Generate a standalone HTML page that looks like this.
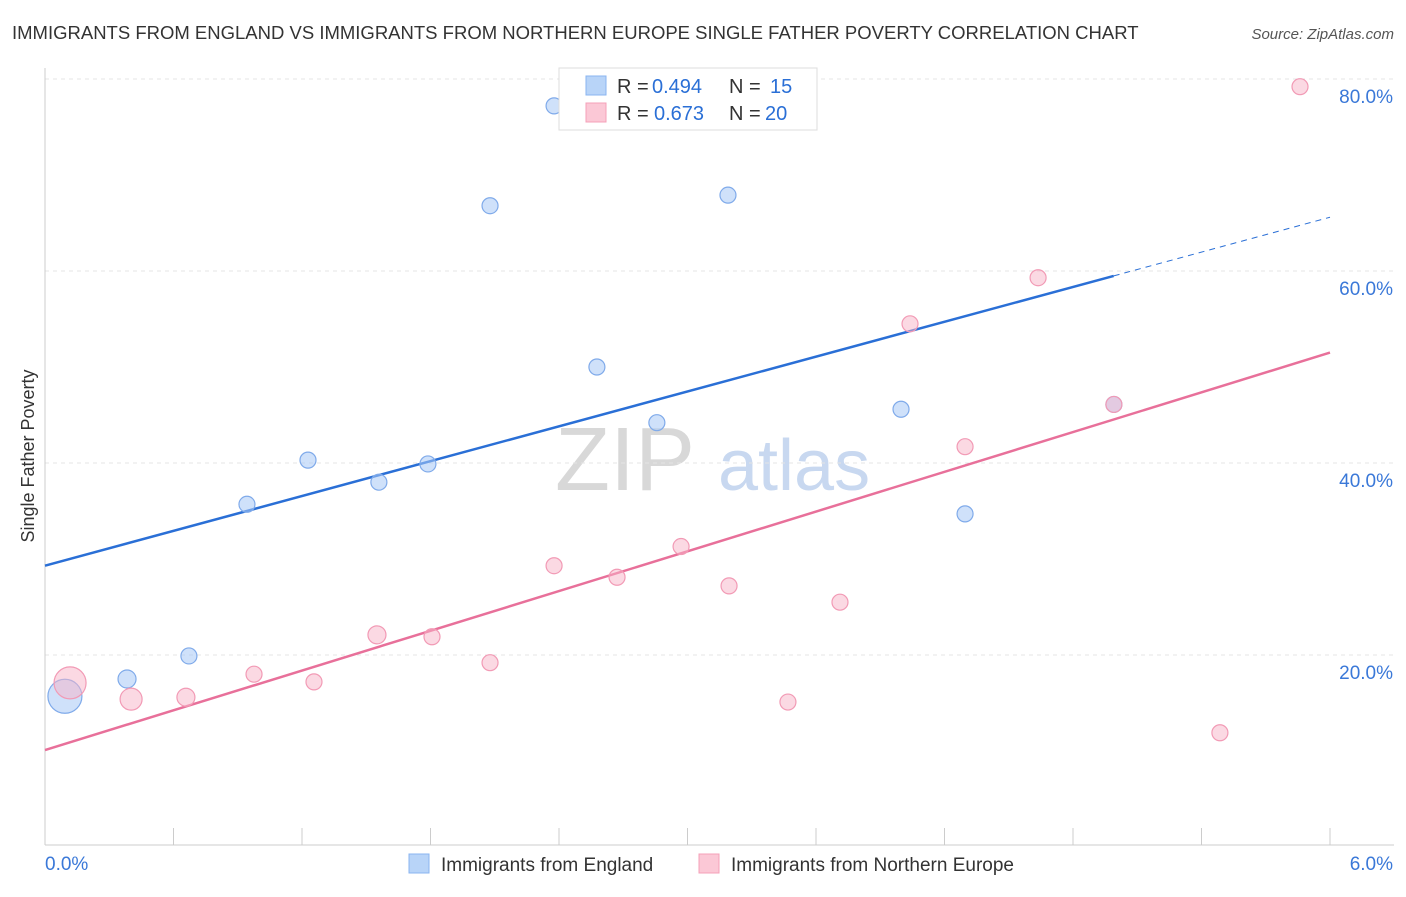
<!DOCTYPE html>
<html><head><meta charset="utf-8"><style>
body{margin:0;background:#fff;font-family:"Liberation Sans",sans-serif;}
svg text{font-family:"Liberation Sans",sans-serif;}
</style></head><body>
<svg id="c" width="1406" height="892">
<text x="12" y="39" font-size="18.5" fill="#333">IMMIGRANTS FROM ENGLAND VS IMMIGRANTS FROM NORTHERN EUROPE SINGLE FATHER POVERTY CORRELATION CHART</text>
<text x="1394" y="39" font-size="15" fill="#555" font-style="italic" text-anchor="end">Source: ZipAtlas.com</text>
<text transform="translate(34,456) rotate(-90)" font-size="18" fill="#333" text-anchor="middle">Single Father Poverty</text>
<text x="555" y="490" font-size="90" fill="#d8d8d8" font-family="Liberation Serif">ZIP</text>
<text x="718" y="490" font-size="72" fill="#c8d8f0">atlas</text>
<g id="grid"></g><g id="lines"></g><g id="pts"></g>
<g>
<rect x="559" y="68" width="258" height="62" fill="#fff" stroke="#ddd"/>
<rect x="586" y="76" width="20" height="19" fill="#b8d4f8" stroke="#8ab4f0"/>
<text x="617" y="93" font-size="20" fill="#333">R =</text>
<text x="652" y="93" font-size="20" fill="#2a6fd6">0.494</text>
<text x="729" y="93" font-size="20" fill="#333">N =</text>
<text x="770" y="93" font-size="20" fill="#2a6fd6">15</text>
<rect x="586" y="103" width="20" height="19" fill="#fbc8d6" stroke="#f4a0b8"/>
<text x="617" y="120" font-size="20" fill="#333">R =</text>
<text x="654" y="120" font-size="20" fill="#2a6fd6">0.673</text>
<text x="729" y="120" font-size="20" fill="#333">N =</text>
<text x="765" y="120" font-size="20" fill="#2a6fd6">20</text>
</g>
<g>
<rect x="409" y="854" width="20" height="19" fill="#b8d4f8" stroke="#8ab4f0"/>
<text x="441" y="871" font-size="19" fill="#333">Immigrants from England</text>
<rect x="699" y="854" width="20" height="19" fill="#fbc8d6" stroke="#f4a0b8"/>
<text x="731" y="871" font-size="19" fill="#333">Immigrants from Northern Europe</text>
</g>
</svg>
<script>
const blueX=[0.093,0.383,0.672,0.943,1.228,1.559,1.788,2.078,2.377,2.577,2.857,3.189,3.997,4.296,4.991];
const blueY=[15.7,17.5,19.9,35.7,40.3,38.0,39.9,66.8,77.2,50.0,44.2,67.9,45.6,34.7,46.1];
const blueR=[17,9,8,8,8,8,8,8,8,8,8,8,8,8,8];
const pinkX=[0.117,0.402,0.658,0.976,1.256,1.550,1.807,2.078,2.377,2.671,2.970,3.194,3.469,3.712,4.039,4.296,4.637,4.991,5.486,5.860];
const pinkY=[17.1,15.4,15.6,18.0,17.2,22.1,21.9,19.2,29.3,28.1,31.3,27.2,15.1,25.5,54.5,41.7,59.3,46.1,11.9,79.2];
const pinkR=[16,11,9,8,8,9,8,8,8,8,8,8,8,8,8,8,8,8,8,8];
const blueLine=[29.3,65.6], blueSolidEnd=4.99;
const pinkLine=[10.1,51.5];
const yTicks=[20,40,60,80];
const xTickLabels=["0.0%","6.0%"];
const X=v=>45+v/6*1285, Y=v=>847-v*9.6;
const NS="http://www.w3.org/2000/svg";
function mk(t,a,p){const e=document.createElementNS(NS,t);for(const k in a)e.setAttribute(k,a[k]);document.getElementById(p).appendChild(e);return e;}
yTicks.forEach(t=>{
 const l=mk('line',{x1:45,x2:1394,y1:Y(t),y2:Y(t),stroke:'#e4e4e4','stroke-dasharray':'4,4'},'grid');
 
 
 const tx=mk('text',{x:1393,y:Y(t)+24,'font-size':19,fill:'#3a78d8','text-anchor':'end'},'grid');tx.textContent=t.toFixed(1)+'%';
 
 
});
mk('line',{x1:45,x2:1394,y1:845,y2:845,stroke:'#ccc'},'grid');
mk('line',{x1:45,x2:45,y1:68,y2:845,stroke:'#ccc'},'grid');
for(let i=0;i<=10;i++){const x=X(i*0.6);mk('line',{x1:x,x2:x,y1:828,y2:845,stroke:'#ccc'},'grid');}
[[0,45,'start'],[6,1393,'end']].forEach((d,i)=>{const tx=mk('text',{x:d[1],y:870,'font-size':19,fill:'#3a78d8','text-anchor':d[2]},'grid');tx.textContent=xTickLabels[i];
 
 });
const by=x=>blueLine[0]+(blueLine[1]-blueLine[0])*x/6;
const py=x=>pinkLine[0]+(pinkLine[1]-pinkLine[0])*x/6;
let l=mk('line',{x1:X(0),y1:Y(by(0)),x2:X(blueSolidEnd),y2:Y(by(blueSolidEnd)),stroke:'#2a6fd6','stroke-width':2.5},'lines');


l=mk('line',{x1:X(blueSolidEnd),y1:Y(by(blueSolidEnd)),x2:X(6),y2:Y(by(6)),stroke:'#2a6fd6','stroke-width':1,'stroke-dasharray':'6,5'},'lines');


l=mk('line',{x1:X(0),y1:Y(py(0)),x2:X(6),y2:Y(py(6)),stroke:'#e8709a','stroke-width':2.5},'lines');


blueX.forEach((x,i)=>{const c=mk('circle',{cx:X(x),cy:Y(blueY[i]),r:blueR[i],fill:'rgba(168,200,245,0.55)',stroke:'#7faaea','stroke-width':1.2},'pts');
 
 });
pinkX.forEach((x,i)=>{const c=mk('circle',{cx:X(x),cy:Y(pinkY[i]),r:pinkR[i],fill:'rgba(248,180,200,0.5)',stroke:'#f29ab5','stroke-width':1.2},'pts');
 
 });
</script>
</body></html>
